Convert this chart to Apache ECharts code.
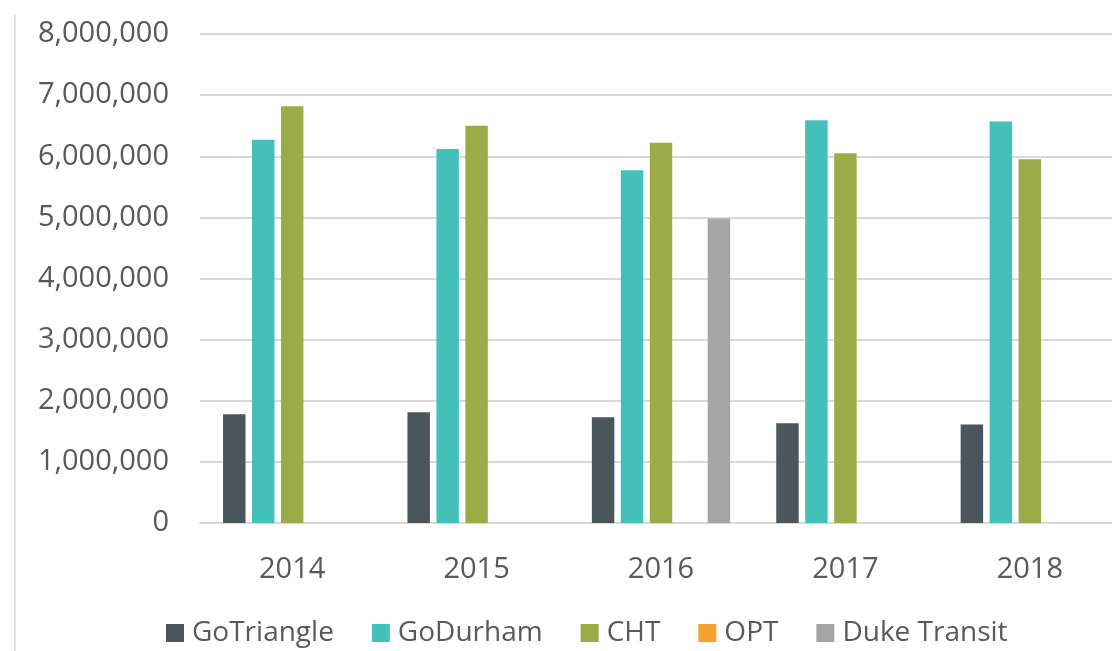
<!DOCTYPE html>
<html lang="en">
<head>
    <meta charset="UTF-8">
    <title>Ridership by Agency</title>
    <script src="https://cdn.jsdelivr.net/npm/echarts@6/dist/echarts.min.js"></script>
    <style>
        html, body {
            margin: 0;
            padding: 0;
            background-color: #ffffff;
            overflow: hidden;
        }
        /* the plot runs past the right edge of the picture, so the div is a bit wider than the window */
        #chart {
            width: 1124px;
            height: 651px;
        }
    </style>
</head>
<body>
    <div id="chart"></div>
    <script>
        // Data
        const years = ['2014', '2015', '2016', '2017', '2018'];
        const goTriangle = [1780000, 1810000, 1730000, 1630000, 1610000];
        const goDurham = [6270000, 6120000, 5770000, 6590000, 6570000];
        const cht = [6820000, 6500000, 6220000, 6050000, 5950000];
        const opt = [null, null, null, null, null];
        const dukeTransit = [null, null, 4980000, null, null];

        const seriesNames = ['GoTriangle', 'GoDurham', 'CHT', 'OPT', 'Duke Transit'];
        const seriesColors = ['#4a555c', '#44c0bb', '#9aab48', '#f4a12f', '#a5a5a5'];
        const seriesData = [goTriangle, goDurham, cht, opt, dukeTransit];

        const textColor = '#595959';
        const fontFamily = '"Open Sans", "Noto Sans", sans-serif';

        const chart = echarts.init(document.getElementById('chart'));
        chart.setOption({
            animation: false,
            textStyle: { fontFamily: fontFamily },
            grid: {
                left: 200,
                right: 2,
                top: 34,
                bottom: 128,
                containLabel: false
            },
            legend: {
                data: seriesNames,
                left: 166,
                top: 619,
                padding: 0,
                itemWidth: 18,
                itemHeight: 18,
                itemGap: 38,
                icon: 'rect',
                textStyle: {
                    color: textColor,
                    fontSize: 28,
                    fontFamily: fontFamily,
                    padding: [0, 0, 0, 3]
                }
            },
            xAxis: {
                type: 'category',
                data: years,
                axisTick: { show: false },
                axisLine: { show: true, lineStyle: { color: '#d9d9d9', width: 2 } },
                axisLabel: {
                    color: textColor,
                    fontSize: 29,
                    margin: 32,
                    fontFamily: fontFamily
                }
            },
            yAxis: {
                type: 'value',
                min: 0,
                max: 8000000,
                interval: 1000000,
                axisLine: { show: false },
                axisTick: { show: false },
                splitLine: { lineStyle: { color: '#d9d9d9', width: 2 } },
                axisLabel: {
                    color: textColor,
                    fontSize: 29,
                    margin: 31,
                    fontFamily: fontFamily,
                    formatter: v => v.toLocaleString('en-US')
                }
            },
            series: seriesNames.map((name, i) => ({
                name: name,
                type: 'bar',
                data: seriesData[i],
                barGap: '29%',
                barCategoryGap: '25%',
                itemStyle: { color: seriesColors[i] }
            })),
            graphic: [{
                type: 'line',
                shape: { x1: 15, y1: 15, x2: 15, y2: 651 },
                style: { stroke: '#d9d9d9', lineWidth: 1.5 }
            }]
        });
    </script>
</body>
</html>
